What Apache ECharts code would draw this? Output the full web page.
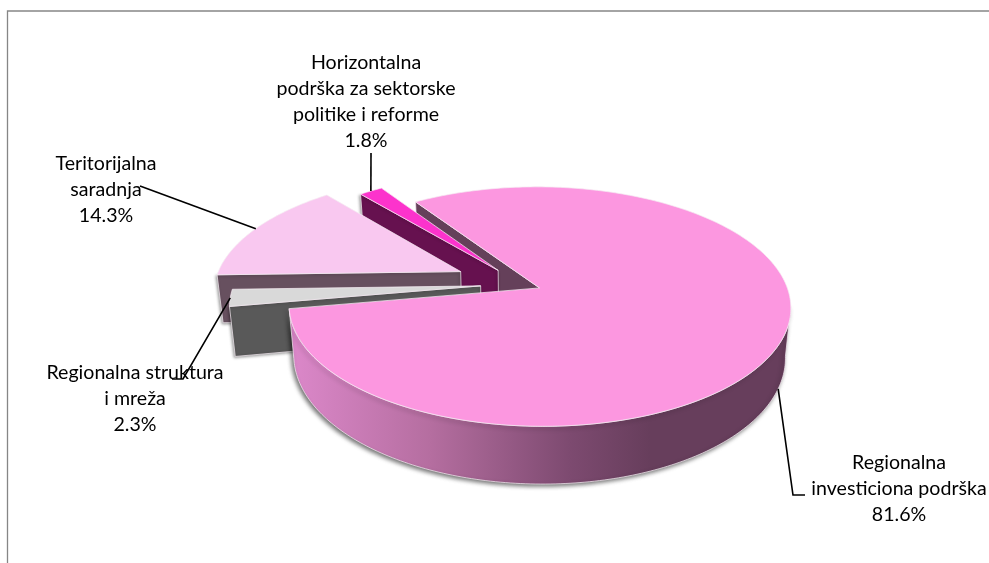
<!DOCTYPE html>
<html><head><meta charset="utf-8">
<style>html,body{margin:0;padding:0;background:#fff}#c{width:989px;height:563px}</style>
<script src="https://cdn.jsdelivr.net/npm/echarts@6/dist/echarts.min.js"></script>
</head><body><div id="c"></div>
<script>
const categories = ['Regionalna investiciona podrška','Regionalna struktura i mreža','Teritorijalna saradnja','Horizontalna podrška za sektorske politike i reforme'];
const labelLines = [['Regionalna','investiciona podrška'],['Regionalna struktura','i mreža'],['Teritorijalna','saradnja'],['Horizontalna','podrška za sektorske','politike i reforme']];
const values = [81.6,2.3,14.3,1.8];
const explode = [0.0856,0.16,0.268,0.15];
const topColors = ['#fc97e0','#d9d9d9','#f9c8f0','#fc33cc'];
const sideColors = ['#65405a','#595959','#67505f','#66114f'];
const labelCenters = [[899,463],[135,373],[106,164],[366,63]];
const leaderEnds = [[[793,495],[805,495]],[[183,379],[172,379]],[[140,186]],[[371,153]]];

// projection of the pie plane
const P = {x0:520, y0:284, R:246.5, H:115.6, k:0.155, D:48.5, shrink:0.98, first:-33.7};
const rad = d => d*Math.PI/180;
const total = values.reduce((a,b)=>a+b,0);
let acc = P.first;
const slices = values.map((v,i)=>{
  const s = acc, sw = v/total*360; acc += sw;
  const mid = s+sw/2;
  return {start:s,end:s+sw,mid,a:explode[i]*Math.sin(rad(mid)),b:explode[i]*Math.cos(rad(mid))};
});
function proj(u,v,down){
  const w = 1+P.k*v;
  let X = P.x0+P.R*u/w, Y = P.y0-P.H*v/w;
  if(down){ X = P.x0+(X-P.x0)*P.shrink; Y += P.D/w; }
  return [X,Y];
}
const rim = (s,deg,down)=>proj(s.a+Math.sin(rad(deg)),s.b+Math.cos(rad(deg)),down);
const apex = (s,down)=>proj(s.a,s.b,down);
function arc(s,from,to,down){
  const n=Math.max(2,Math.ceil(Math.abs(to-from))), pts=[];
  for(let i=0;i<=n;i++) pts.push(rim(s,from+(to-from)*i/n,down));
  return pts;
}
const edge='rgba(245,235,242,0.9)';
function poly(points,fill,z2,extra){
  return {type:'polygon',z2,shape:{points},style:Object.assign({fill,stroke:edge,lineWidth:0.8},extra||{})};
}
const depthZ=[30,20,10,5];
function renderItem(params){
  const i=params.dataIndex,s=slices[i],kids=[],z=depthZ[i];
  if(i===0){
    // wall of the gap, behind the exploded slices
    kids.push(poly([apex(s),rim(s,s.start),rim(s,s.start,true),apex(s,true)],sideColors[0],1));
    const gradient=new echarts.graphic.LinearGradient(290,0,790,0,[
      {offset:0,color:'#dc88ca'},{offset:0.28,color:'#b56ea0'},{offset:0.56,color:'#7d4a70'},
      {offset:0.72,color:'#673e5c'},{offset:1,color:'#673e5c'}],true);
    const from=Math.acos(-P.k)*180/Math.PI;
    kids.push(poly(arc(s,from,s.end).concat(arc(s,s.end,from,true)),gradient,z+1,
      {shadowBlur:4,shadowOffsetX:-2,shadowOffsetY:2,shadowColor:'rgba(0,0,0,0.55)'}));
  } else {
    kids.push(poly([apex(s),rim(s,s.start),rim(s,s.start,true),apex(s,true)],sideColors[i],z+1,
      {shadowBlur:3,shadowOffsetX:-1,shadowOffsetY:1,shadowColor:'rgba(0,0,0,0.4)'}));
  }
  kids.push(poly([apex(s)].concat(arc(s,s.start,s.end)),topColors[i],z+2));
  // label and leader
  const anchor = i===0 ? rim(s,s.mid,true) : rim(s,s.mid);
  kids.push({type:'polyline',z2:60,shape:{points:[anchor].concat(leaderEnds[i])},
    style:{fill:null,stroke:'#000',lineWidth:1.6}});
  const lines=labelLines[i].concat([values[i].toFixed(1)+'%']);
  lines.forEach((t,j)=>kids.push({type:'text',z2:70,style:{text:t,x:labelCenters[i][0],y:labelCenters[i][1]+j*26,
    fill:'#000',font:'19.6px Lato',align:'center',verticalAlign:'middle'}}));
  return {type:'group',children:kids};
}
const chart=echarts.init(document.getElementById('c'),null,{renderer:'canvas'});
chart.setOption({
  animation:false,backgroundColor:'#fff',
  graphic:[{type:'polyline',silent:true,shape:{points:[[7.5,563],[7.5,11],[989,11]]},style:{fill:null,stroke:'#868686',lineWidth:1.3}}],
  series:[{type:'custom',coordinateSystem:'none',renderItem,silent:true,
    data:categories.map((name,i)=>({name,value:values[i]}))}]
});
</script></body></html>
